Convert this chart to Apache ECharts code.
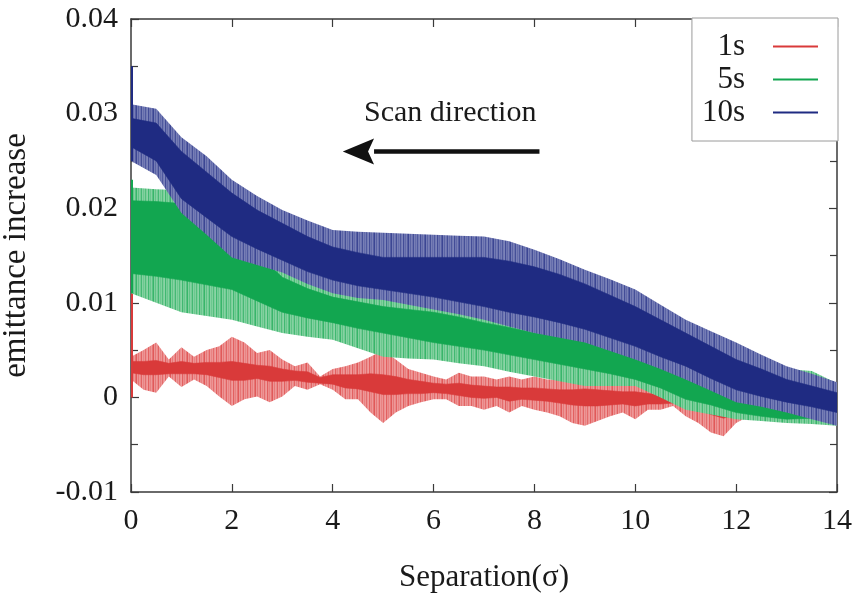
<!DOCTYPE html>
<html>
<head>
<meta charset="utf-8">
<script src="https://cdn.jsdelivr.net/npm/echarts@6/dist/echarts.min.js"></script>
<style>html,body{margin:0;padding:0;background:#fff}#c{width:854px;height:597px}</style>
</head>
<body>
<div id="c"></div>
<script>
// ---- data (envelopes of the noisy traces) ----
const seriesNames = ['1s', '5s', '10s'];
const xTicks = [0, 2, 4, 6, 8, 10, 12, 14];
const yTicks = [-0.01, 0, 0.01, 0.02, 0.03, 0.04];

const sigma5s10s = [0,0.5,1,1.5,2,2.5,3,3.5,4,4.5,5,5.5,6,6.5,7,7.5,8,8.5,9,9.5,10,10.5,11,11.5,12,12.5,13,13.5,14];
const blueOuterHi = [0.031,0.0305,0.0275,0.0255,0.023,0.0213,0.0198,0.0187,0.0177,0.0175,0.0174,0.0173,0.0172,0.0171,0.017,0.0165,0.0156,0.0146,0.0135,0.0125,0.0114,0.0098,0.0082,0.007,0.0058,0.0045,0.0033,0.0025,0.0016];
const blueCoreHi  = [0.0295,0.029,0.026,0.0238,0.0216,0.0198,0.0184,0.017,0.0159,0.0153,0.0148,0.0148,0.0148,0.0148,0.0148,0.0144,0.0138,0.013,0.012,0.0108,0.0096,0.0082,0.0068,0.0054,0.004,0.003,0.0019,0.0012,0.0005];
const blueCoreLo  = [0.0265,0.025,0.021,0.019,0.017,0.0157,0.0145,0.0133,0.0124,0.0118,0.0114,0.011,0.0106,0.0101,0.0096,0.009,0.0085,0.0079,0.0072,0.0063,0.0054,0.0043,0.0033,0.002,0.0008,0.0001,-0.0005,-0.001,-0.0016];
const blueOuterLo = [0.025,0.0235,0.0195,0.0172,0.0148,0.014,0.0132,0.012,0.011,0.0105,0.0103,0.0098,0.0093,0.0088,0.0082,0.0075,0.0068,0.0063,0.0058,0.0049,0.004,0.003,0.0019,0.0007,-0.0005,-0.001,-0.0016,-0.0023,-0.003];

const greenOuterHi = [0.0222,0.022,0.0219,0.0208,0.0195,0.0168,0.0142,0.0128,0.0117,0.0113,0.011,0.0106,0.0103,0.0098,0.0093,0.0088,0.0082,0.0079,0.0075,0.007,0.0065,0.006,0.0055,0.0048,0.004,0.0035,0.003,0.0028,0.0015];
const greenCoreHi  = [0.0208,0.0207,0.0205,0.0192,0.0177,0.0152,0.0127,0.0115,0.0106,0.0101,0.0096,0.0093,0.009,0.0085,0.0079,0.0074,0.0068,0.0065,0.0061,0.006,0.0058,0.005,0.004,0.003,0.0019,0.0014,0.0008,0.001,0.001];
const greenCoreLo  = [0.0131,0.0128,0.0124,0.0119,0.0114,0.0102,0.009,0.0084,0.0079,0.0073,0.0068,0.0063,0.0058,0.0054,0.005,0.0045,0.004,0.0035,0.003,0.0025,0.0019,0.001,-0.0002,-0.0008,-0.0016,-0.002,-0.0023,-0.0022,-0.002];
const greenOuterLo = [0.011,0.01,0.009,0.0086,0.0082,0.0075,0.0068,0.0064,0.0061,0.0052,0.0043,0.0041,0.004,0.0036,0.0033,0.0027,0.0022,0.0017,0.0012,0.0012,0.0012,0.0,-0.0013,-0.0018,-0.0023,-0.0025,-0.0027,-0.0028,-0.003];

const sigma1s = [0,0.25,0.5,0.75,1,1.25,1.5,1.75,2,2.25,2.5,2.75,3,3.25,3.5,3.75,4,4.25,4.5,4.75,5,5.25,5.5,5.75,6,6.25,6.5,6.75,7,7.25,7.5,7.75,8,8.25,8.5,8.75,9,9.25,9.5,9.75,10,10.25,10.5,10.75,11,11.25,11.5,11.75,12,12.25,12.5,12.75,13,13.25,13.5,13.75,14];
const redOuterHi = [0.0043,0.005,0.0058,0.004,0.0053,0.0043,0.005,0.0054,0.0064,0.0058,0.0047,0.005,0.004,0.0033,0.0037,0.0022,0.003,0.0033,0.0037,0.0043,0.005,0.004,0.003,0.0026,0.0022,0.0019,0.0026,0.0022,0.0022,0.0019,0.0022,0.0019,0.0022,0.0019,0.0019,0.0022,0.0028,0.0022,0.0019,0.0016,0.0019,0.0012,0.0008,0.0005,0.0012,0.0016,0.0016,0.0008,0.0001,-0.0005,-0.0005,-0.0005,-0.0005,-0.0004,-0.0003,-0.0002,-0.0001];
const redCoreHi  = [0.0038,0.0038,0.0039,0.0036,0.0038,0.0036,0.0037,0.0037,0.0038,0.0036,0.0034,0.0033,0.003,0.0028,0.0027,0.0021,0.0024,0.0024,0.0024,0.0025,0.0024,0.0022,0.0019,0.0017,0.0015,0.0014,0.0015,0.0013,0.0012,0.0011,0.0011,0.001,0.001,0.0009,0.0008,0.0008,0.0009,0.0008,0.0007,0.0006,0.0006,0.0004,0.0003,0.0001,0.0002,0.0001,-0.0001,-0.0005,-0.0006,-0.0008,-0.0008,-0.0008,-0.0009,-0.0008,-0.0007,-0.0007,-0.0006];
const redCoreLo  = [0.0026,0.0024,0.0024,0.0025,0.0025,0.0025,0.0024,0.0021,0.0018,0.0018,0.002,0.0017,0.0017,0.0018,0.0016,0.0015,0.0014,0.001,0.0009,0.0006,0.0003,0.0003,0.0004,0.0004,0.0005,0.0004,0.0002,0.0,-0.0001,0.0,-0.0004,-0.0002,-0.0003,-0.0004,-0.0006,-0.0008,-0.0009,-0.0009,-0.0008,-0.0007,-0.0009,-0.0007,-0.0007,-0.0006,-0.001,-0.0013,-0.0018,-0.0022,-0.0018,-0.0016,-0.0013,-0.0014,-0.0016,-0.0015,-0.0014,-0.0013,-0.0012];
const redOuterLo = [0.0019,0.0008,0.0005,0.0022,0.0011,0.0019,0.0012,0.0001,-0.0009,-0.0002,0.0001,-0.0005,0.0001,0.0012,0.0008,0.0014,0.0008,-0.0002,-0.0002,-0.0016,-0.0027,-0.0016,-0.0009,-0.0005,-0.0002,-0.0002,-0.0009,-0.0009,-0.0013,-0.0009,-0.0016,-0.0009,-0.0013,-0.0016,-0.002,-0.0027,-0.003,-0.0025,-0.002,-0.0016,-0.0023,-0.0013,-0.0013,-0.0009,-0.002,-0.0027,-0.0037,-0.0041,-0.0027,-0.002,-0.0016,-0.002,-0.0023,-0.002,-0.0019,-0.0018,-0.0016];

// spike right at the start of each scan (sigma = 0): [high, low]
const redEdgeSpike = [0.02, 0.0];
const greenEdgeSpike = [0.023, 0.011];
const blueEdgeSpike = [0.035, 0.025];

// ---- styling ----
const FONT = "'Liberation Serif', 'Times New Roman', serif";
const TXT = '#1a1a1a';
const AX = '#3a3a3a';

// hatch texture imitating dense vertical noise strokes (pure styling)
const hatchWeights = [1, 0.15, 0.55, 0.1, 0.3, 0.85, 0.1, 0.4, 0.15, 0.7, 0.2, 0.05, 0.9, 0.25, 0.45, 0.1, 0.6];
function hatch(dark, light) {
  const c = document.createElement('canvas');
  c.width = hatchWeights.length; c.height = 1;
  const g = c.getContext('2d');
  g.fillStyle = light; g.fillRect(0, 0, c.width, 1);
  g.fillStyle = dark;
  hatchWeights.forEach((w, i) => { g.globalAlpha = w * 0.7; g.fillRect(i, 0, 1, 1); });
  return { image: c, repeat: 'repeat' };
}

function bandSeries(name, xs, oh, ch, cl, ol, spike, core, light) {
  const data = xs.map((x, i) => [x, oh[i], ch[i], cl[i], ol[i]]);
  const pattern = hatch(core, light);
  return {
    name: name,
    type: 'custom',
    data: data,
    itemStyle: { color: core },
    clip: true,
    silent: true,
    renderItem: function (params, api) {
      if (params.dataIndex !== 0) return null;
      const top = [], bot = [], ctop = [], cbot = [];
      for (let i = 0; i < data.length; i++) {
        top.push(api.coord([data[i][0], data[i][1]]));
        ctop.push(api.coord([data[i][0], data[i][2]]));
        cbot.push(api.coord([data[i][0], data[i][3]]));
        bot.push(api.coord([data[i][0], data[i][4]]));
      }
      const s0 = api.coord([0, spike[0]]);
      const s1 = api.coord([0, spike[1]]);
      return {
        type: 'group',
        children: [
          { type: 'polygon', shape: { points: top.concat(bot.slice().reverse()) }, style: { fill: pattern } },
          { type: 'polygon', shape: { points: ctop.concat(cbot.slice().reverse()) }, style: { fill: core, stroke: core, lineWidth: 0.6 } },
          { type: 'line', shape: { x1: s0[0] + 1, y1: s0[1], x2: s1[0] + 1, y2: s1[1] }, style: { stroke: core, lineWidth: 2 } }
        ]
      };
    }
  };
}

const chart = echarts.init(document.getElementById('c'), null, { renderer: 'canvas' });

const yFmt = v => { const r = Math.round(v * 1000) / 1000; return r === 0 ? '0' : String(r); };

const baseAxisLine = { onZero: false, lineStyle: { color: AX, width: 1.5 } };
const baseTick = { show: true, inside: true, length: 8, lineStyle: { color: AX, width: 1.2 } };

const option = {
  animation: false,
  backgroundColor: '#fff',
  grid: { left: 131, right: 17, top: 19, bottom: 105, containLabel: false, outerBoundsMode: 'none' },
  legend: {
    orient: 'vertical',
    right: 16, top: 18,
    align: 'right',
    icon: 'rect',
    itemWidth: 45, itemHeight: 2,
    itemGap: 2,
    selectedMode: false,
    borderColor: '#9a9a9a', borderWidth: 1,
    padding: [13, 20, 13, 10],
    backgroundColor: '#fff',
    textStyle: { fontFamily: FONT, fontSize: 31, color: TXT, lineHeight: 30, padding: [0, 23, 0, 0] },
    data: seriesNames
  },
  xAxis: [
    {
      type: 'value', min: xTicks[0], max: xTicks[xTicks.length - 1], interval: 2,
      position: 'bottom',
      name: 'Separation(σ)', nameLocation: 'middle', nameGap: 70,
      nameTextStyle: { fontFamily: FONT, fontSize: 31, color: TXT },
      axisLine: baseAxisLine,
      axisTick: baseTick,
      axisLabel: { fontFamily: FONT, fontSize: 30, color: TXT, margin: 14 },
      splitLine: { show: false }
    },
    {
      type: 'value', min: xTicks[0], max: xTicks[xTicks.length - 1], interval: 2,
      position: 'top',
      axisLine: baseAxisLine,
      axisTick: baseTick,
      axisLabel: { show: false },
      splitLine: { show: false }
    }
  ],
  yAxis: [
    {
      type: 'value', min: yTicks[0], max: yTicks[yTicks.length - 1], interval: 0.01,
      position: 'left',
      name: 'emittance increase', nameLocation: 'middle', nameGap: 98,
      nameTextStyle: { fontFamily: FONT, fontSize: 33, color: TXT },
      axisLine: Object.assign({ show: true }, baseAxisLine),
      axisTick: baseTick,
      minorTick: { show: true, splitNumber: 2, length: 7, lineStyle: { color: AX, width: 1.2 } },
      axisLabel: { fontFamily: FONT, fontSize: 30, color: TXT, margin: 13, formatter: yFmt },
      splitLine: { show: false }
    },
    {
      type: 'value', min: yTicks[0], max: yTicks[yTicks.length - 1], interval: 0.01,
      position: 'right',
      axisLine: Object.assign({ show: true }, baseAxisLine),
      axisTick: baseTick,
      minorTick: { show: true, splitNumber: 2, length: 7, lineStyle: { color: AX, width: 1.2 } },
      axisLabel: { show: false },
      splitLine: { show: false }
    }
  ],
  series: [
    bandSeries('1s', sigma1s, redOuterHi, redCoreHi, redCoreLo, redOuterLo, redEdgeSpike, '#d93a3a', '#f0a0a0'),
    bandSeries('5s', sigma5s10s, greenOuterHi, greenCoreHi, greenCoreLo, greenOuterLo, greenEdgeSpike, '#12a650', '#8fd6a8'),
    bandSeries('10s', sigma5s10s, blueOuterHi, blueCoreHi, blueCoreLo, blueOuterLo, blueEdgeSpike, '#1f2b82', '#7f86bb')
  ]
};
chart.setOption(option);

// annotation: "Scan direction" with arrow, placed in data coordinates
const arrowFrom = [8.1, 0.026];
const arrowBase = [4.78, 0.026];
const arrowTip = [4.2, 0.026];
const labelAt = [6.33, 0.0301];
const pFrom = chart.convertToPixel({ gridIndex: 0 }, arrowFrom);
const pBase = chart.convertToPixel({ gridIndex: 0 }, arrowBase);
const pTip = chart.convertToPixel({ gridIndex: 0 }, arrowTip);
const pLab = chart.convertToPixel({ gridIndex: 0 }, labelAt);
chart.setOption({
  graphic: [
    { type: 'line', shape: { x1: pFrom[0], y1: pFrom[1], x2: pBase[0] + 2, y2: pBase[1] }, style: { stroke: '#111', lineWidth: 4.5 } },
    { type: 'polygon', shape: { points: [[pTip[0], pTip[1]], [pBase[0] + 2, pBase[1] - 13], [pBase[0] - 4, pBase[1]], [pBase[0] + 2, pBase[1] + 13]] }, style: { fill: '#111' } },
    { type: 'text', x: pLab[0], y: pLab[1], style: { text: 'Scan direction', font: "30px 'Liberation Serif', serif", fill: TXT, align: 'center', verticalAlign: 'middle' } }
  ]
});
</script>
</body>
</html>
